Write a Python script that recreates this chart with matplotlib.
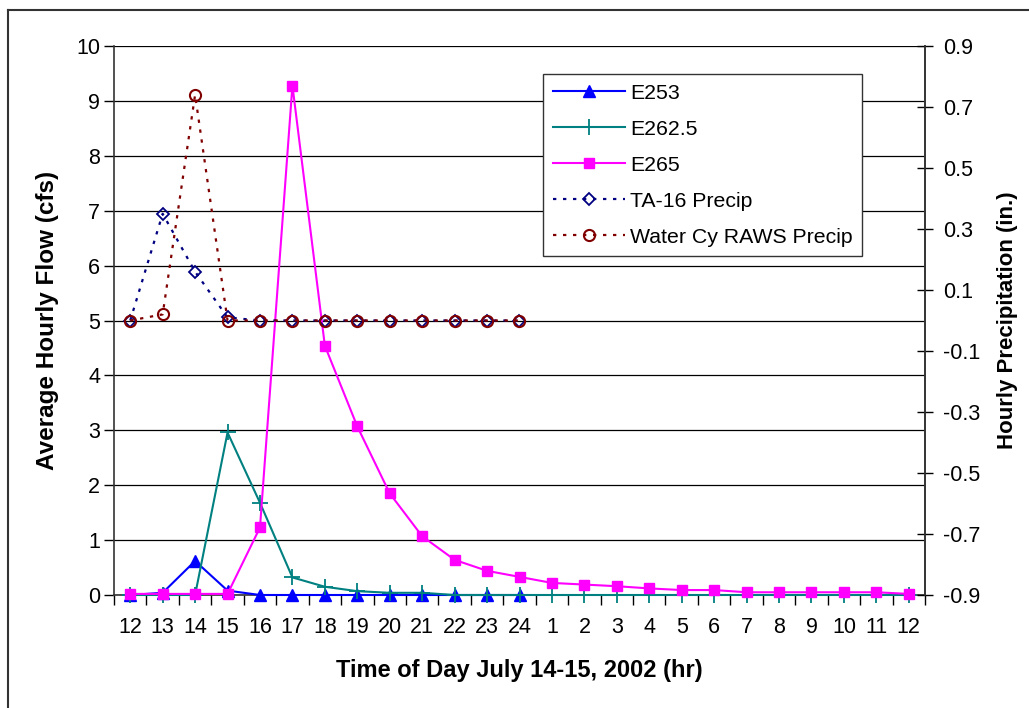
import matplotlib
matplotlib.use('Agg')
import matplotlib.pyplot as plt
from matplotlib.lines import Line2D

plt.rcParams['font.family'] = ['Liberation Sans', 'DejaVu Sans']

hours = ['12', '13', '14', '15', '16', '17', '18', '19', '20', '21', '22', '23', '24',
         '1', '2', '3', '4', '5', '6', '7', '8', '9', '10', '11', '12']

# average hourly flow (cfs)
e253 = [0, 0.04, 0.62, 0.08, 0, 0, 0, 0, 0, 0, 0, 0, 0]
e262_5 = [0, 0, 0, 2.96, 1.68, 0.32, 0.15, 0.07, 0.04, 0.04, 0, 0, 0,
          0, 0, 0, 0, 0, 0, 0, 0, 0, 0, 0, 0]
e265 = [0.02, 0.02, 0.02, 0.02, 1.23, 9.28, 4.54, 3.07, 1.85, 1.07, 0.64, 0.44, 0.33,
        0.22, 0.19, 0.16, 0.12, 0.09, 0.09, 0.05, 0.05, 0.05, 0.05, 0.05, 0.02]

# hourly precipitation (in.)
ta16 = [0, 0.35, 0.16, 0.01, 0, 0, 0, 0, 0, 0, 0, 0, 0]
water_cy = [0, 0.02, 0.74, 0, 0, 0, 0, 0, 0, 0, 0, 0, 0]

fig = plt.figure(figsize=(10.29, 7.08), dpi=100)
ax = fig.add_axes([114 / 1029, 1 - 595 / 708, 811 / 1029, 549 / 708])
ax2 = ax.twinx()

x = list(range(len(hours)))

l1, = ax.plot(x[:len(e253)], e253, color='#0000FF', lw=1.5, marker='^', ms=9,
              label='E253', zorder=3, clip_on=False)
l2, = ax.plot(x[:len(e262_5)], e262_5, color='#008080', lw=1.5, marker='+', ms=11,
              mew=1.3, label='E262.5', zorder=3, clip_on=False)
l3, = ax.plot(x[:len(e265)], e265, color='#FF00FF', lw=1.5, marker='s', ms=7.5,
              label='E265', zorder=4, clip_on=False)

l4, = ax2.plot(x[:len(ta16)], ta16, color='#000080', lw=1.6, ls=(0, (1.5, 3)),
               marker='D', ms=6.5, mfc='none', mew=1.3, label='TA-16 Precip', clip_on=False)
l5, = ax2.plot(x[:len(water_cy)], water_cy, color='#800000', lw=1.6, ls=(0, (1.5, 3)),
               marker='o', ms=8, mfc='none', mew=1.5, label='Water Cy RAWS Precip',
               clip_on=False)

ax.set_xlim(-0.5, len(hours) - 0.5)
ax.set_ylim(0, 10)
ax.set_yticks(range(0, 11))
ax2.set_ylim(-0.9, 0.9)
ax2.set_yticks([-0.9, -0.7, -0.5, -0.3, -0.1, 0.1, 0.3, 0.5, 0.7, 0.9])
ax2.set_yticklabels(['-0.9', '-0.7', '-0.5', '-0.3', '-0.1', '0.1', '0.3', '0.5', '0.7', '0.9'])

# category ticks between labels, labels on minor ticks
ax.set_xticks([i - 0.5 for i in range(len(hours) + 1)])
ax.set_xticklabels([])
ax.set_xticks(x, minor=True)
ax.set_xticklabels(hours, minor=True)
ax.tick_params(axis='x', which='major', direction='out', length=7, width=1)
ax.tick_params(axis='x', which='minor', length=0, labelsize=15.5, pad=16)
ax.tick_params(axis='y', direction='out', length=7, width=1, labelsize=15.5, pad=3)
ax2.tick_params(axis='y', direction='inout', length=12, width=1, labelsize=15.5, pad=7)

ax.yaxis.grid(True, color='black', lw=0.9)
ax.set_axisbelow(True)
ax.spines['top'].set_visible(False)
ax2.spines['top'].set_visible(False)
ax2.spines['left'].set_visible(False)
ax2.spines['bottom'].set_visible(False)
for a in (ax, ax2):
    for sp in a.spines.values():
        sp.set_color('#333333')
        sp.set_linewidth(1.2)

ax.set_xlabel('Time of Day July 14-15, 2002 (hr)', fontsize=17, fontweight='bold', labelpad=15)
ax.set_ylabel('Average Hourly Flow (cfs)', fontsize=17.5, fontweight='bold', labelpad=12)
ax2.set_ylabel('Hourly Precipitation (in.)', fontsize=16, fontweight='bold', labelpad=12)

leg = ax2.legend(handles=[l1, l2, l3, l4, l5], loc='upper left',
                 bbox_to_anchor=(543 / 1029, 1 - 74 / 708), bbox_transform=fig.transFigure,
                 fontsize=15.3, frameon=True, fancybox=False, framealpha=1,
                 edgecolor='#333333', handlelength=3.4, borderpad=0.45, labelspacing=0.8,
                 handletextpad=0.25, borderaxespad=0)
leg.get_frame().set_linewidth(1.0)

# chart area border
fig.add_artist(Line2D([8 / 1029, 8 / 1029], [0, 1 - 10 / 708], transform=fig.transFigure,
                      color='#333333', lw=1.5))
fig.add_artist(Line2D([8 / 1029, 1], [1 - 10 / 708, 1 - 10 / 708], transform=fig.transFigure,
                      color='#333333', lw=1.5))

fig.savefig('out.png', dpi=100)
